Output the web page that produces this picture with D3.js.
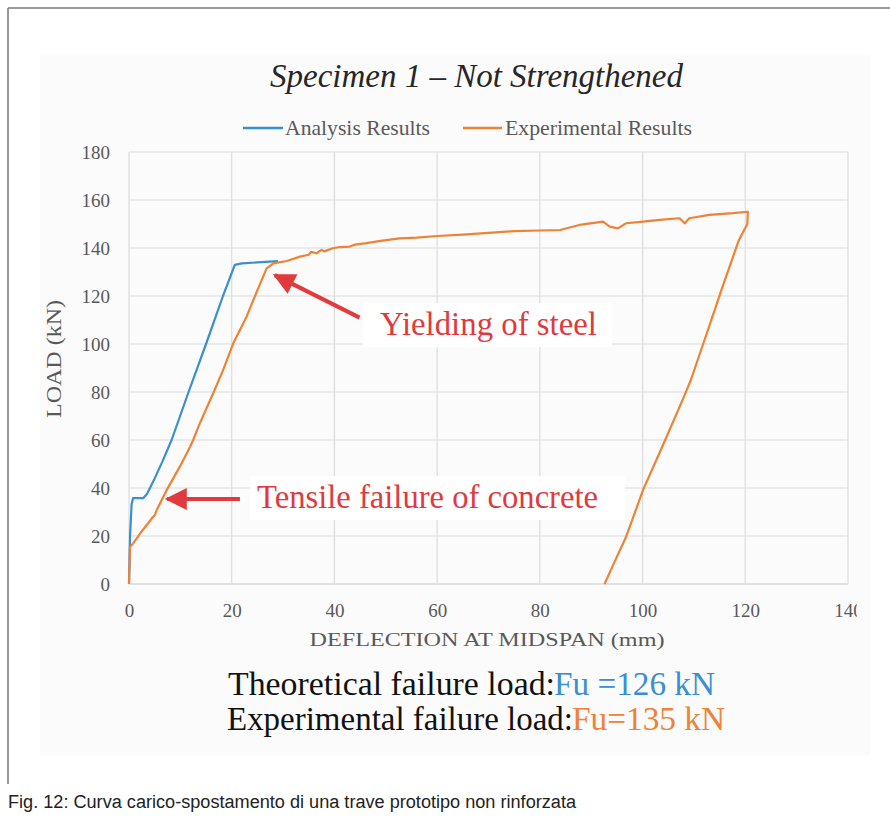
<!DOCTYPE html>
<html><head><meta charset="utf-8">
<script src="https://cdn.jsdelivr.net/npm/d3@7/dist/d3.min.js"></script>
<style>body{margin:0;background:#fff}svg{display:block}</style>
</head><body>
<script>
// ---- data ----
const xTicks = [0, 20, 40, 60, 80, 100, 120, 140];
const yTicks = [0, 20, 40, 60, 80, 100, 120, 140, 160, 180];
const seriesNames = ["Analysis Results", "Experimental Results"];
const analysisX = [0, 0.2, 0.5, 0.8, 2.8, 3.5, 5, 6.5, 8.3, 11.6, 15, 18.3, 20.6, 22, 25, 29];
const analysisY = [0, 20, 33, 35.8, 35.8, 37.5, 44, 51, 60, 80, 100, 120, 133, 133.6, 134, 134.5];
const experimentalX = [0, 0.2, 0.85, 2.5, 4.7, 5.0, 5.4, 7.3, 9.9, 11.9, 12.5, 13.8, 16.4, 18.3, 20.3, 22.9, 24.2, 26.8, 28.1, 30.7, 33.3, 35, 35.5, 36.5, 37.5, 38, 39.7, 41, 43, 44, 46.2, 49, 52.7, 56, 60, 65, 70, 75, 80, 83.9, 87.7, 92.3, 93.6, 95.2, 96.8, 100.1, 103.3, 107.2, 108.2, 109.1, 113, 117.6, 120.5, 120.4, 118.7, 115.6, 111.8, 109.4, 107.8, 104, 100.1, 96.8, 94.5, 92.6];
const experimentalY = [0, 15.5, 17, 22, 28, 28.6, 30.8, 39, 48.9, 57.2, 60, 67, 79.5, 89, 100.3, 111.4, 118.3, 131.5, 133.6, 134.6, 136.4, 137.2, 138.4, 137.8, 139.2, 138.6, 139.9, 140.4, 140.6, 141.4, 142, 143, 144, 144.3, 145, 145.6, 146.3, 147, 147.3, 147.5, 149.6, 151, 148.9, 148.2, 150.3, 151, 151.7, 152.4, 150.3, 152.4, 153.8, 154.5, 155.1, 150, 143, 124, 100, 85, 76.7, 58, 39.2, 19.7, 9, 0];
const annotations = [
  {text: "Yielding of steel", tipX: 28.4, tipY: 128.7, tailX: 44.9, tailY: 111},
  {text: "Tensile failure of concrete", tipX: 7.4, tipY: 35.4, tailX: 21.6, tailY: 35.4}
];
const resultLabels = ["Theoretical failure load:", "Fu =126 kN", "Experimental failure load:", "Fu=135 kN"];

const W = 890, H = 820;
const blue = "#3a8fd2", orange = "#ee8236", red = "#e03a3e";
const svg = d3.select("body").append("svg").attr("width", W).attr("height", H);

// frame
svg.append("line").attr("x1", 8).attr("y1", 8).attr("x2", 890).attr("y2", 8).attr("stroke", "#7a7a7a").attr("stroke-width", 1.5);
svg.append("line").attr("x1", 8).attr("y1", 8).attr("x2", 8).attr("y2", 784).attr("stroke", "#7a7a7a").attr("stroke-width", 1.5);
svg.append("rect").attr("x", 40).attr("y", 55).attr("width", 830).attr("height", 700).attr("fill", "#fbfbfb");

const x = d3.scaleLinear().domain([0, 140]).range([129, 848]);
const y = d3.scaleLinear().domain([0, 180]).range([584, 152]);

const serif = "'Liberation Serif', 'Times New Roman', serif";

// gridlines
const grid = svg.append("g");
grid.selectAll(".hg").data(yTicks).join("line")
  .attr("x1", x(0)).attr("x2", x(140)).attr("y1", d => y(d)).attr("y2", d => y(d))
  .attr("stroke", d => d === 0 ? "#c8c8c8" : "#dcdcdc").attr("stroke-width", 1.2);
grid.selectAll(".vg").data(xTicks).join("line")
  .attr("y1", y(0)).attr("y2", y(180)).attr("x1", d => x(d)).attr("x2", d => x(d))
  .attr("stroke", "#dcdcdc").attr("stroke-width", 1.2);

// axes labels
svg.append("clipPath").attr("id", "xc").append("rect").attr("x", 0).attr("y", 0).attr("width", 857).attr("height", H);
const gx = svg.append("g").attr("transform", `translate(0,${y(0)})`).attr("clip-path", "url(#xc)")
  .call(d3.axisBottom(x).tickValues(xTicks).tickSize(0).tickPadding(20).tickFormat(d3.format("d")));
gx.select(".domain").remove();
gx.selectAll("text").attr("font-family", serif).attr("font-size", 19).attr("fill", "#595959");
const gy = svg.append("g").attr("transform", `translate(${x(0)},0)`)
  .call(d3.axisLeft(y).tickValues(yTicks).tickSize(0).tickPadding(19).tickFormat(d3.format("d")));
gy.select(".domain").remove();
gy.selectAll("text").attr("font-family", serif).attr("font-size", 19).attr("fill", "#595959");

// axis titles
svg.append("text").attr("x", 487).attr("y", 646).attr("text-anchor", "middle")
  .attr("font-family", serif).attr("font-size", 19).attr("fill", "#595959")
  .attr("textLength", 355).attr("lengthAdjust", "spacingAndGlyphs").text("DEFLECTION AT MIDSPAN (mm)");
svg.append("text").attr("transform", "translate(61,359) rotate(-90)").attr("text-anchor", "middle")
  .attr("font-family", serif).attr("font-size", 20).attr("fill", "#595959")
  .attr("textLength", 118).attr("lengthAdjust", "spacingAndGlyphs").text("LOAD (kN)");

// title
svg.append("text").attr("x", 270).attr("y", 87)
  .attr("font-family", serif).attr("font-style", "italic").attr("font-size", 34).attr("fill", "#262626")
  .attr("textLength", 413).attr("lengthAdjust", "spacingAndGlyphs").text("Specimen 1 \u2013 Not Strengthened");

// legend
const legend = [
  {name: seriesNames[0], color: blue, x0: 243, x1: 283, tx: 285, tl: 145},
  {name: seriesNames[1], color: orange, x0: 463, x1: 502, tx: 505, tl: 187}
];
legend.forEach(l => {
  svg.append("line").attr("x1", l.x0).attr("x2", l.x1).attr("y1", 128).attr("y2", 128)
    .attr("stroke", l.color).attr("stroke-width", 2.5);
  svg.append("text").attr("x", l.tx).attr("y", 135).attr("font-family", serif).attr("font-size", 21)
    .attr("fill", "#595959").attr("textLength", l.tl).attr("lengthAdjust", "spacingAndGlyphs").text(l.name);
});

// annotation boxes (white) behind text
svg.append("rect").attr("x", 363).attr("y", 303).attr("width", 249).attr("height", 44).attr("fill", "#fff");
svg.append("rect").attr("x", 250).attr("y", 476).attr("width", 375).attr("height", 44).attr("fill", "#fff");

// curves
const line = d3.line().x(d => x(d[0])).y(d => y(d[1]));
const aData = analysisX.map((v, i) => [v, analysisY[i]]);
const eData = experimentalX.map((v, i) => [v, experimentalY[i]]);
svg.append("path").datum(aData).attr("d", line).attr("fill", "none").attr("stroke", blue).attr("stroke-width", 2.2).attr("stroke-linejoin", "round");
svg.append("path").datum(eData).attr("d", line).attr("fill", "none").attr("stroke", orange).attr("stroke-width", 2.2).attr("stroke-linejoin", "round");

// annotations
svg.append("defs").append("marker").attr("id", "ah").attr("viewBox", "0 0 10 10").attr("refX", 9).attr("refY", 5)
  .attr("markerWidth", 6).attr("markerHeight", 5.5).attr("markerUnits", "strokeWidth").attr("orient", "auto")
  .append("path").attr("d", "M0,0 L10,5 L0,10 Z").attr("fill", red);
annotations.forEach(a => {
  svg.append("line").attr("x1", x(a.tailX)).attr("y1", y(a.tailY)).attr("x2", x(a.tipX)).attr("y2", y(a.tipY))
    .attr("stroke", red).attr("stroke-width", 4).attr("marker-end", "url(#ah)");
});
svg.append("text").attr("x", 380).attr("y", 335).attr("font-family", serif).attr("font-size", 34).attr("fill", red)
  .attr("textLength", 217).attr("lengthAdjust", "spacingAndGlyphs").text(annotations[0].text);
svg.append("text").attr("x", 257).attr("y", 508).attr("font-family", serif).attr("font-size", 34).attr("fill", red)
  .attr("textLength", 341).attr("lengthAdjust", "spacingAndGlyphs").text(annotations[1].text);

// result lines
const rl = [
  {t: resultLabels[0], x: 228, y: 695, l: 327, c: "#111"},
  {t: resultLabels[1], x: 554, y: 695, l: 161, c: blue},
  {t: resultLabels[2], x: 227, y: 730, l: 346, c: "#111"},
  {t: resultLabels[3], x: 572, y: 730, l: 153, c: orange}
];
rl.forEach(r => svg.append("text").attr("x", r.x).attr("y", r.y).attr("font-family", serif).attr("font-size", 33)
  .attr("fill", r.c).attr("textLength", r.l).attr("lengthAdjust", "spacingAndGlyphs").text(r.t));

// caption
svg.append("text").attr("x", 8).attr("y", 808).attr("font-family", "'Liberation Sans Narrow', 'Liberation Sans', sans-serif")
  .attr("font-size", 18).attr("fill", "#222").attr("textLength", 568).attr("lengthAdjust", "spacingAndGlyphs")
  .text("Fig. 12: Curva carico-spostamento di una trave prototipo non rinforzata");
</script>
</body></html>
